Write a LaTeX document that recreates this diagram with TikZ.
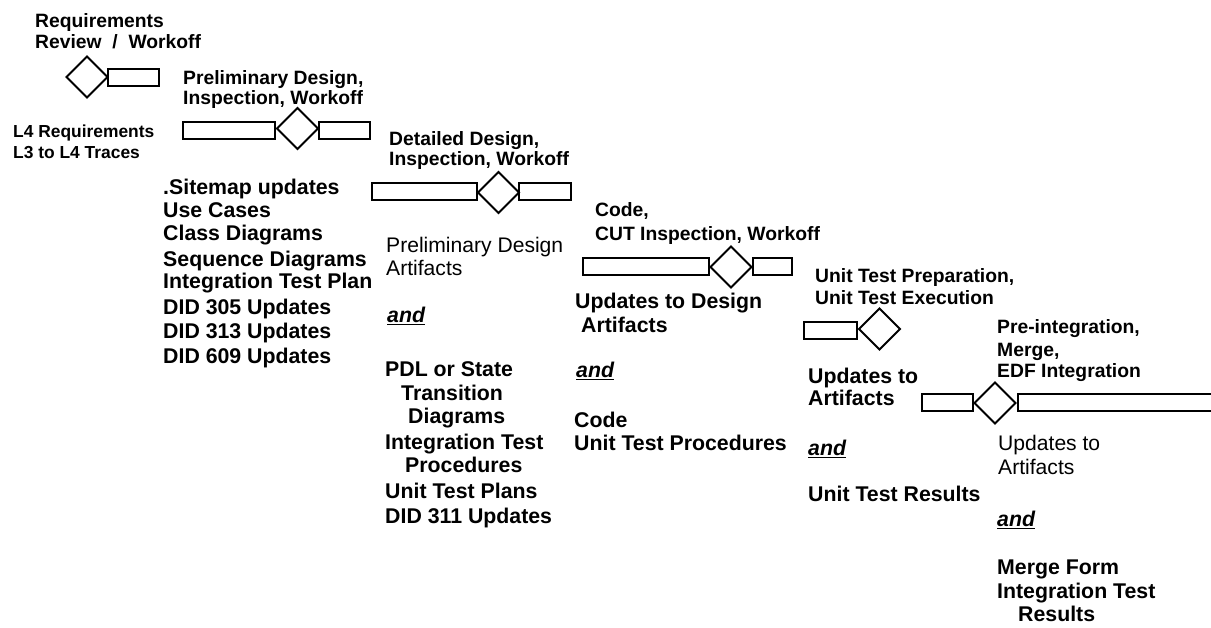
\documentclass[tikz,border=0pt]{standalone}
\usepackage{fontspec}
\setmainfont{Liberation Sans}
\usetikzlibrary{shapes.geometric}

\tikzset{
  bar/.style={draw, line width=2pt, minimum height=17pt, inner sep=0pt, outer sep=0pt},
  gate/.style={draw, diamond, line width=2pt, minimum width=41pt, minimum height=41pt, inner sep=0pt, outer sep=0pt, fill=white},
  title/.style={anchor=base west, inner sep=0pt, font=\fontsize{19.3}{20}\selectfont\bfseries},
  small/.style={anchor=base west, inner sep=0pt, font=\fontsize{17.4}{20}\selectfont\bfseries},
  body/.style={anchor=base west, inner sep=0pt, font=\fontsize{21.3}{24}\selectfont\bfseries},
  plain/.style={anchor=base west, inner sep=0pt, font=\fontsize{21.1}{24}\selectfont},
  conj/.style={anchor=base west, inner sep=0pt, font=\fontsize{21.3}{24}\selectfont\bfseries\itshape}
}

\begin{document}
\begin{tikzpicture}[x=1pt, y=-1pt]
\useasboundingbox (0,0) rectangle (1211,627);
\clip (0,0) rectangle (1211,627);

% ---- stage 1: requirements
\node[title] (t1a) at (35,27) {Requirements};
\node[title] (t1b) at (35,48) {Review \ / \ Workoff};
\node[bar, minimum width=51pt] (r1) at (133.5,77.5) {};
\node[gate] (d1) at (87,77) {};
\node[small] (o1a) at (13,137) {L4 Requirements};
\node[small] (o1b) at (13,158) {L3 to L4 Traces};

% ---- stage 2: preliminary design
\node[title] (t2a) at (183,84) {Preliminary Design,};
\node[title] (t2b) at (183,104) {Inspection, Workoff};
\node[bar, minimum width=92pt] (r2a) at (229,130) {};
\node[bar, minimum width=51pt] (r2b) at (344.5,130) {};
\node[gate] (d2) at (297.5,128.5) {};
\node[body] (o2a) at (163,194.5) {.Sitemap updates};
\node[body] (o2b) at (163,217.5) {Use Cases};
\node[body] (o2c) at (163,240.5) {Class Diagrams};
\node[body] (o2d) at (163,266.5) {Sequence Diagrams};
\node[body] (o2e) at (163,288.5) {Integration Test Plan};
\node[body] (o2f) at (163,314.5) {DID 305 Updates};
\node[body] (o2g) at (163,338.5) {DID 313 Updates};
\node[body] (o2h) at (163,363.5) {DID 609 Updates};

% ---- stage 3: detailed design
\node[title] (t3a) at (389,145) {Detailed Design,};
\node[title] (t3b) at (389,165) {Inspection, Workoff};
\node[bar, minimum width=105pt] (r3a) at (424.5,191.5) {};
\node[bar, minimum width=52pt] (r3b) at (545,191.5) {};
\node[gate] (d3) at (498.5,192.5) {};
\node[plain] (o3a) at (386,252.5) {Preliminary Design};
\node[plain] (o3b) at (386,275.5) {Artifacts};
\node[conj] (o3c) at (387,322.5) {\underline{and}};
\node[body] (o3d) at (385,376.5) {PDL or State};
\node[body] (o3e) at (401,400.5) {Transition};
\node[body] (o3f) at (408,423.5) {Diagrams};
\node[body] (o3g) at (385,449.5) {Integration Test};
\node[body] (o3h) at (405,472.5) {Procedures};
\node[body] (o3i) at (385,498.5) {Unit Test Plans};
\node[body] (o3j) at (385,523.5) {DID 311 Updates};

% ---- stage 4: code
\node[title] (t4a) at (595,216) {Code,};
\node[title] (t4b) at (595,240) {CUT Inspection, Workoff};
\node[bar, minimum width=126pt] (r4a) at (646,266.5) {};
\node[bar, minimum width=39pt] (r4b) at (772.5,266.5) {};
\node[gate] (d4) at (731,267) {};
\node[body] (o4a) at (575,308.5) {Updates to Design};
\node[body] (o4b) at (581,332.5) {Artifacts};
\node[conj] (o4c) at (576,377.5) {\underline{and}};
\node[body] (o4d) at (574,427.5) {Code};
\node[body] (o4e) at (574,450.5) {Unit Test Procedures};

% ---- stage 5: unit test
\node[title] (t5a) at (815,282) {Unit Test Preparation,};
\node[title] (t5b) at (815,304) {Unit Test Execution};
\node[bar, minimum width=53pt] (r5) at (830.5,330.5) {};
\node[gate] (d5) at (879.5,329) {};
\node[body] (o5a) at (808,383.5) {Updates to};
\node[body] (o5b) at (808,405.5) {Artifacts};
\node[conj] (o5c) at (808,455.5) {\underline{and}};
\node[body] (o5d) at (808,501.5) {Unit Test Results};

% ---- stage 6: integration
\node[title] (t6a) at (997,333) {Pre-integration,};
\node[title] (t6b) at (997,356) {Merge,};
\node[title] (t6c) at (997,377) {EDF Integration};
\node[bar, minimum width=51pt] (r6a) at (947.5,402.5) {};
\node[bar, minimum width=212pt] (r6b) at (1124,402.5) {};
\node[gate] (d6) at (995,403) {};
\node[plain] (o6a) at (998,450.5) {Updates to};
\node[plain] (o6b) at (998,474.5) {Artifacts};
\node[conj] (o6c) at (997,526.5) {\underline{and}};
\node[body] (o6d) at (997,574.5) {Merge Form};
\node[body] (o6e) at (997,598.5) {Integration Test};
\node[body] (o6f) at (1018,621.5) {Results};
\end{tikzpicture}
\end{document}
